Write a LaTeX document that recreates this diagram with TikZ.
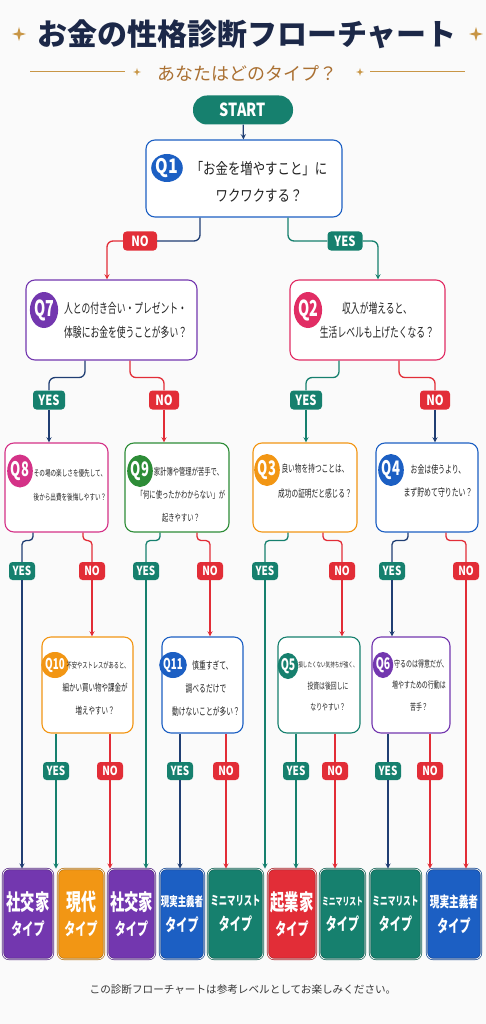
\documentclass[tikz,border=0pt]{standalone}
\usepackage{fontspec}
\setmainfont{Noto Sans CJK JP}
\newfontfamily\jpn[FakeStretch=0.8]{Noto Sans CJK JP}
\newfontfamily\jpc[FakeStretch=0.65]{Noto Sans CJK JP}
\usetikzlibrary{
  calc,
  positioning,
  arrows,
  shapes.geometric}

\definecolor{cTeal}{RGB}{22,128,110}
\definecolor{cRed}{RGB}{226,45,55}
\definecolor{cNavy}{RGB}{32,62,115}
\definecolor{cBlue}{RGB}{28,95,195}
\definecolor{cPurple}{RGB}{115,55,175}
\definecolor{cPink}{RGB}{225,45,100}
\definecolor{cMagenta}{RGB}{212,50,135}
\definecolor{cGreen}{RGB}{45,140,55}
\definecolor{cOrange}{RGB}{242,150,20}
\definecolor{cTitle}{RGB}{28,40,72}
\definecolor{cGold}{RGB}{200,150,70}
\definecolor{cBrown}{RGB}{170,112,50}
\definecolor{cBack}{RGB}{250,250,250}
\definecolor{cInk}{RGB}{35,35,35}
\definecolor{cFoot}{RGB}{55,55,55}

\begin{document}
\begin{tikzpicture}[
  x=1pt, y=-1pt,
  >=stealth,
  every node/.style={inner sep=0pt},
  qbox/.style={draw=#1,fill=white,rounded corners=9pt,line width=1.1pt},
  qtag/.style={ellipse,fill=#1,text=white},
  qtext/.style={align=center,text=cInk},
  badge/.style={fill=#1,text=white,rounded corners=3.5pt,minimum height=19pt,font=\jpn\bfseries\fontsize{14}{14}\selectfont},
  sbadge/.style={badge=#1,minimum width=26pt,minimum height=18pt,font=\jpn\bfseries\fontsize{12.5}{12.5}\selectfont},
  link/.style={draw=#1,line width=1.3pt,rounded corners=6pt},
  slink/.style={draw=#1,line width=1.3pt,rounded corners=4pt},
  tbox/.style={fill=#1,draw=#1!75!black,double=white,double distance=0.7pt,line width=0.7pt,rounded corners=6pt,text=white,align=center,minimum height=90pt,font=\jpc\bfseries\fontsize{17}{25}\selectfont},
  sparkle/.pic={\fill[cGold] (0,-1) -- (0.22,-0.22) -- (1,0) -- (0.22,0.22) -- (0,1) -- (-0.22,0.22) -- (-1,0) -- (-0.22,-0.22) -- cycle;}
]%
  \fill[cBack] (0,0) rectangle (486,1024);
  \useasboundingbox (0,0) rectangle (486,1024);

  \node[text=cTitle,font=\bfseries\fontsize{30}{30}\selectfont] (title) at (247,34) {お金の性格診断フローチャート};
  \pic[scale=7] at (19,34) {sparkle};
  \pic[scale=7] at (476,34) {sparkle};
  \node[text=cBrown,font=\fontsize{18}{18}\selectfont] (sub) at (247,73) {あなたはどのタイプ？};
  \draw[cGold,line width=1pt] (30,72) -- (125,72) (370,72) -- (465,72);
  \pic[scale=4] at (137,72) {sparkle};
  \pic[scale=4] at (360,72) {sparkle};

  \node[fill=cTeal,text=white,rounded corners=14pt,minimum width=100pt,minimum height=29pt,font=\jpn\bfseries\fontsize{18}{18}\selectfont] (start) at (243,110) {START};

  % questions
  \node[qbox=cBlue,minimum width=196pt,minimum height=77pt] (q1) at (244,178.5) {};
  \node[qtag=cBlue,minimum width=30pt,minimum height=28pt,font=\jpn\bfseries\fontsize{20}{20}\selectfont] (q1n) at (167,168) {Q1};
  \node[qtext,font=\jpn\fontsize{15.5}{27}\selectfont] (q1t) at (259,181.5) {「お金を増やすこと」に\\ワクワクする？};

  \node[qbox=cPurple,minimum width=171pt,minimum height=80pt] (q7) at (111.5,320) {};
  \node[qtag=cPurple,minimum width=28pt,minimum height=36pt,font=\jpc\bfseries\fontsize{22}{22}\selectfont] (q7n) at (44,310) {Q7};
  \node[qtext,align=left,anchor=west,font=\jpc\fontsize{13.5}{24}\selectfont] (q7t) at (64,320) {人との付き合い・プレゼント・\\体験にお金を使うことが多い？};

  \node[qbox=cPink,minimum width=155pt,minimum height=80pt] (q2) at (367.5,320) {};
  \node[qtag=cPink,minimum width=28pt,minimum height=36pt,font=\jpc\bfseries\fontsize{22}{22}\selectfont] (q2n) at (308,310) {Q2};
  \node[qtext,font=\jpc\fontsize{13.5}{24}\selectfont] (q2t) at (377,320) {収入が増えると、\\生活レベルも上げたくなる？};

  \node[qbox=cMagenta,minimum width=103pt,minimum height=89pt] (q8) at (56.5,487.5) {};
  \node[qtag=cMagenta,minimum width=24pt,minimum height=33pt,font=\jpc\bfseries\fontsize{20}{20}\selectfont] (q8n) at (20,471) {Q8};
  \node[qtext,font=\jpc\fontsize{8.6}{24}\selectfont] (q8t) at (70,485.5) {その場の楽しさを優先して、\\後から出費を後悔しやすい？};

  \node[qbox=cGreen,minimum width=104pt,minimum height=89pt] (q9) at (177,487.5) {};
  \node[qtag=cGreen,minimum width=24pt,minimum height=32pt,font=\jpc\bfseries\fontsize{20}{20}\selectfont] (q9n) at (140,471) {Q9};
  \node[qtext,font=\jpc\fontsize{9.7}{23}\selectfont] (q9t) at (181,494.5) {\hspace*{15pt}家計簿や管理が苦手で、\\「何に使ったかわからない」が\\起きやすい？};

  \node[qbox=cOrange,minimum width=104pt,minimum height=89pt] (q3) at (305,487.5) {};
  \node[qtag=cOrange,minimum width=24pt,minimum height=32pt,font=\jpc\bfseries\fontsize{20}{20}\selectfont] (q3n) at (267,470) {Q3};
  \node[qtext,font=\jpc\fontsize{10.3}{25}\selectfont] (q3t) at (315,481.5) {良い物を持つことは、\\成功の証明だと感じる？};

  \node[qbox=cBlue,minimum width=102pt,minimum height=89pt] (q4) at (427,487.5) {};
  \node[qtag=cBlue,minimum width=23pt,minimum height=32pt,font=\jpc\bfseries\fontsize{20}{20}\selectfont] (q4n) at (391,470) {Q4};
  \node[qtext,font=\jpc\fontsize{10.6}{23}\selectfont] (q4t) at (438,481) {お金は使うより、\\まず貯めて守りたい？};

  \node[qbox=cOrange,minimum width=91pt,minimum height=96pt] (q10) at (87.5,685) {};
  \node[qtag=cOrange,minimum width=20pt,minimum height=26pt,font=\jpc\bfseries\fontsize{15}{15}\selectfont] (q10n) at (55,665) {Q10};
  \node[qtext,font=\jpc\fontsize{10}{23}\selectfont] (q10t) at (95,688.5) {{\fontsize{8.1}{23}\selectfont\hspace*{6pt}不安やストレスがあると、}\\細かい買い物や課金が\\増えやすい？};

  \node[qbox=cBlue,minimum width=81pt,minimum height=96pt] (q11) at (202.5,685) {};
  \node[qtag=cBlue,minimum width=20pt,minimum height=26pt,font=\jpc\bfseries\fontsize{15}{15}\selectfont] (q11n) at (173,665) {Q11};
  \node[qtext,font=\jpc\fontsize{10.4}{23}\selectfont] (q11t) at (206,688.5) {\hspace*{13pt}慎重すぎて、\\調べるだけで\\動けないことが多い？};

  \node[qbox=cTeal,minimum width=82pt,minimum height=96pt] (q5) at (319,685) {};
  \node[qtag=cTeal,minimum width=19pt,minimum height=26pt,font=\jpc\bfseries\fontsize{16}{16}\selectfont] (q5n) at (288,666) {Q5};
  \node[qtext,font=\jpc\fontsize{9}{21.5}\selectfont] (q5t) at (328,686.5) {{\fontsize{7}{21.5}\selectfont 損したくない気持ちが強く、}\\投資は後回しに\\なりやすい？};

  \node[qbox=cPurple,minimum width=78pt,minimum height=96pt] (q6) at (411,685) {};
  \node[qtag=cPurple,minimum width=19pt,minimum height=26pt,font=\jpc\bfseries\fontsize{16}{16}\selectfont] (q6n) at (383,665) {Q6};
  \node[qtext,font=\jpc\fontsize{9.2}{21.5}\selectfont] (q6t) at (419,685) {\hspace*{4pt}守るのは得意だが、\\増やすための行動は\\苦手？};

  % types
  \node[tbox=cPurple,minimum width=50pt] (b1) at (28,914) {{\fontsize{22}{25}\selectfont 社交家}\\タイプ};
  \node[tbox=cOrange,minimum width=46pt] (b2) at (81,914) {{\fontsize{23}{25}\selectfont 現代}\\タイプ};
  \node[tbox=cPurple,minimum width=47pt] (b3) at (131.5,914) {{\fontsize{22}{25}\selectfont 社交家}\\タイプ};
  \node[tbox=cBlue,minimum width=44pt] (b4) at (182,914) {{\fontsize{13}{25}\selectfont 現実主義者}\\タイプ};
  \node[tbox=cTeal,minimum width=55pt] (b5) at (235.5,914) {{\fontsize{12.8}{25}\selectfont ミニマリスト}\\タイプ};
  \node[tbox=cRed,minimum width=48pt] (b6) at (292,914) {{\fontsize{22}{25}\selectfont 起業家}\\タイプ};
  \node[tbox=cTeal,minimum width=45pt] (b7) at (342.5,914) {{\fontsize{10.5}{25}\selectfont ミニマリスト}\\タイプ};
  \node[tbox=cTeal,minimum width=51pt] (b8) at (395.5,914) {{\fontsize{11.8}{25}\selectfont ミニマリスト}\\タイプ};
  \node[tbox=cBlue,minimum width=54pt] (b9) at (454,914) {{\fontsize{14.8}{25}\selectfont 現実主義者}\\タイプ};

  % badges
  \node[badge=cRed,minimum width=34pt] (no1) at (140,241) {NO};
  \node[badge=cTeal,minimum width=35pt] (yes1) at (345,241) {YES};
  \node[badge=cTeal,minimum width=32pt] (yes7) at (49,400) {YES};
  \node[badge=cRed,minimum width=30pt] (no7) at (164,400) {NO};
  \node[badge=cTeal,minimum width=32pt] (yes2) at (306,400) {YES};
  \node[badge=cRed,minimum width=30pt] (no2) at (435,400) {NO};
  \node[sbadge=cTeal] (yes8) at (22,571) {YES};
  \node[sbadge=cRed] (no8) at (92,571) {NO};
  \node[sbadge=cTeal] (yes9) at (146,571) {YES};
  \node[sbadge=cRed] (no9) at (210,571) {NO};
  \node[sbadge=cTeal] (yes3) at (265,571) {YES};
  \node[sbadge=cRed] (no3) at (342,571) {NO};
  \node[sbadge=cTeal] (yes4) at (392,571) {YES};
  \node[sbadge=cRed] (no4) at (466,571) {NO};
  \node[sbadge=cTeal] (yes10) at (56,771) {YES};
  \node[sbadge=cRed] (no10) at (110,771) {NO};
  \node[sbadge=cTeal] (yes11) at (180,771) {YES};
  \node[sbadge=cRed] (no11) at (226,771) {NO};
  \node[sbadge=cTeal] (yes5) at (296,771) {YES};
  \node[sbadge=cRed] (no5) at (335,771) {NO};
  \node[sbadge=cTeal] (yes6) at (388,771) {YES};
  \node[sbadge=cRed] (no6) at (430,771) {NO};

  % connectors
  \draw[link=cNavy,->] (start) -- (q1);
  \draw[link=cNavy] ([xshift=-44pt]q1.south) |- (no1);
  \draw[link=cRed,->] (no1) -| ([xshift=-4.5pt]q7.north);
  \draw[link=cTeal] ([xshift=44pt]q1.south) |- (yes1);
  \draw[link=cTeal,->] (yes1) -| ([xshift=10.5pt]q2.north);

  \draw[link=cNavy] ([xshift=-26.5pt]q7.south) -- ++(0,17) -| (yes7);
  \draw[link=cNavy,->] (yes7) -- (q8.north -| yes7);
  \draw[link=cRed] ([xshift=18.5pt]q7.south) -- ++(0,17) -| (no7);
  \draw[link=cRed,->] (no7) -- (q9.north -| no7);
  \draw[link=cTeal] ([xshift=-28.5pt]q2.south) -- ++(0,17) -| (yes2);
  \draw[link=cTeal,->] (yes2) -- (q3.north -| yes2);
  \draw[link=cRed] ([xshift=31.5pt]q2.south) -- ++(0,17) -| (no2);
  \draw[link=cNavy,->] (no2) -- (q4.north -| no2);

  \draw[slink=cNavy] ([xshift=-23.5pt]q8.south) -- ++(0,8) -| (yes8);
  \draw[slink=cNavy,->] (yes8) -- (b1.north -| yes8);
  \draw[slink=cRed] ([xshift=26.5pt]q8.south) -- ++(0,8) -| (no8);
  \draw[slink=cRed,->] (no8) -- (q10.north -| no8);
  \draw[slink=cTeal] ([xshift=-17pt]q9.south) -- ++(0,8) -| (yes9);
  \draw[slink=cTeal,->] (yes9) -- (b3.north -| yes9);
  \draw[slink=cRed] ([xshift=20pt]q9.south) -- ++(0,8) -| (no9);
  \draw[slink=cRed,->] (no9) -- (q11.north -| no9);
  \draw[slink=cTeal] ([xshift=-17pt]q3.south) -- ++(0,8) -| (yes3);
  \draw[slink=cTeal,->] (yes3) -- (b6.north -| yes3);
  \draw[slink=cRed] ([xshift=18pt]q3.south) -- ++(0,8) -| (no3);
  \draw[slink=cRed,->] (no3) -- (q5.north -| no3);
  \draw[slink=cNavy] ([xshift=-19pt]q4.south) -- ++(0,8) -| (yes4);
  \draw[slink=cNavy,->] (yes4) -- (q6.north -| yes4);
  \draw[slink=cRed] ([xshift=19pt]q4.south) -- ++(0,8) -| (no4);
  \draw[slink=cRed,->] (no4) -- (b9.north -| no4);

  \draw[slink=cTeal] (q10.south -| yes10) -- (yes10);
  \draw[slink=cTeal,->] (yes10) -- (b2.north -| yes10);
  \draw[slink=cRed] (q10.south -| no10) -- (no10);
  \draw[slink=cRed,->] (no10) -- (b3.north -| no10);
  \draw[slink=cNavy] (q11.south -| yes11) -- (yes11);
  \draw[slink=cNavy,->] (yes11) -- (b4.north -| yes11);
  \draw[slink=cRed] (q11.south -| no11) -- (no11);
  \draw[slink=cRed,->] (no11) -- (b5.north -| no11);
  \draw[slink=cTeal] (q5.south -| yes5) -- (yes5);
  \draw[slink=cTeal,->] (yes5) -- (b6.north -| yes5);
  \draw[slink=cRed] (q5.south -| no5) -- (no5);
  \draw[slink=cRed,->] (no5) -- (b7.north -| no5);
  \draw[slink=cNavy] (q6.south -| yes6) -- (yes6);
  \draw[slink=cNavy,->] (yes6) -- (b8.north -| yes6);
  \draw[slink=cRed] (q6.south -| no6) -- (no6);
  \draw[slink=cRed,->] (no6) -- (b9.north -| no6);

  \node[text=cFoot,font=\fontsize{10.6}{12}\selectfont] (foot) at (243,990) {この診断フローチャートは参考レベルとしてお楽しみください。};
\end{tikzpicture}
\end{document}
